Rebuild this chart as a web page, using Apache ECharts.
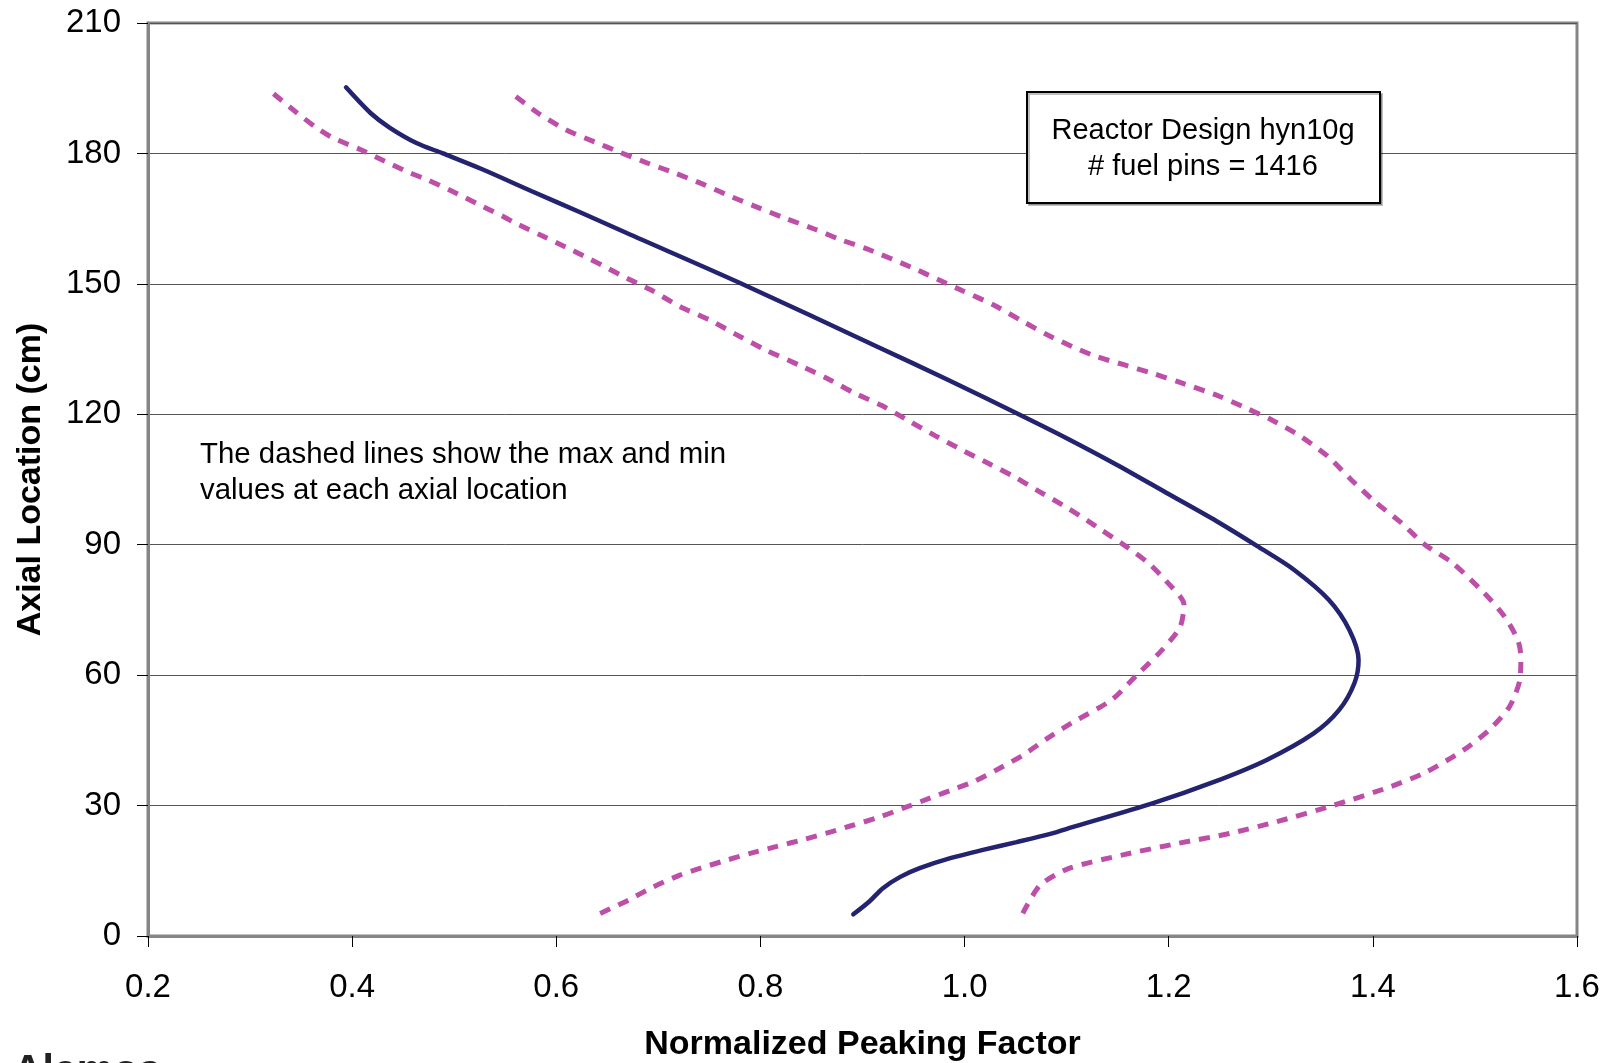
<!DOCTYPE html>
<html>
<head>
<meta charset="utf-8">
<script src="https://cdn.jsdelivr.net/npm/echarts@6/dist/echarts.min.js"></script>
<style>
  html, body { margin: 0; padding: 0; background: #fff; }
  #main { width: 1613px; height: 1063px; }
</style>
</head>
<body>
<div id="main"></div>
<script>
// average peaking factor (solid line), read bottom to top
const avgFactor = [0.891, 0.907, 0.920, 0.937, 0.956, 0.986, 1.018, 1.051, 1.084, 1.108, 1.184, 1.245, 1.296, 1.342, 1.367, 1.382, 1.386, 1.377, 1.357, 1.323, 1.288, 1.247, 1.198, 1.149, 1.100, 1.054, 0.983, 0.914, 0.780, 0.669, 0.625, 0.576, 0.528, 0.489, 0.463, 0.437, 0.418, 0.394];
const avgAxial  = [5.0, 8.0, 11.0, 13.6, 15.6, 17.9, 19.8, 21.6, 23.5, 25.2, 30.5, 35.5, 40.5, 46.6, 52.0, 58.2, 63.5, 70.4, 77.3, 84.2, 89.5, 95.4, 101.9, 108.4, 114.5, 119.9, 128.0, 135.6, 150.2, 161.7, 166.3, 171.3, 176.3, 180.0, 182.4, 185.9, 189.3, 195.2];

// max values (upper dashed line)
const maxFactor = [1.057, 1.074, 1.103, 1.154, 1.209, 1.260, 1.306, 1.362, 1.418, 1.453, 1.489, 1.514, 1.534, 1.544, 1.545, 1.542, 1.529, 1.509, 1.478, 1.451, 1.428, 1.402, 1.379, 1.356, 1.330, 1.301, 1.276, 1.250, 1.209, 1.183, 1.156, 1.129, 1.106, 1.081, 1.056, 1.028, 0.999, 0.974, 0.948, 0.906, 0.878, 0.854, 0.823, 0.793, 0.767, 0.743, 0.716, 0.689, 0.662, 0.638, 0.609, 0.582, 0.558];
const maxAxial  = [5.2, 11.7, 15.6, 18.6, 21.3, 23.6, 26.3, 30.1, 34.4, 37.8, 42.8, 47.4, 52.8, 58.9, 64.3, 68.1, 73.5, 78.9, 85.8, 90.0, 95.0, 99.9, 104.9, 110.3, 114.8, 118.7, 121.4, 124.1, 127.5, 129.5, 131.4, 133.3, 135.5, 138.3, 141.5, 145.2, 148.3, 151.0, 153.8, 157.9, 160.2, 162.5, 165.2, 168.0, 170.5, 173.0, 175.5, 177.8, 180.3, 182.6, 185.5, 189.3, 193.5];

// min values (lower dashed line)
const minFactor = [0.643, 0.671, 0.695, 0.721, 0.736, 0.762, 0.790, 0.816, 0.844, 0.870, 0.888, 0.916, 0.940, 0.966, 0.992, 1.009, 1.033, 1.058, 1.080, 1.105, 1.144, 1.169, 1.192, 1.211, 1.215, 1.198, 1.180, 1.157, 1.134, 1.120, 1.097, 1.072, 1.049, 1.025, 0.999, 0.971, 0.943, 0.919, 0.891, 0.865, 0.839, 0.806, 0.775, 0.751, 0.721, 0.692, 0.669, 0.644, 0.633, 0.609, 0.584, 0.558, 0.548, 0.522, 0.498, 0.473, 0.457, 0.432, 0.408, 0.381, 0.365, 0.344, 0.320];
const minAxial  = [5.2, 8.3, 11.3, 14.0, 15.2, 17.1, 19.0, 20.6, 22.3, 24.0, 25.3, 27.3, 29.4, 31.7, 34.0, 35.5, 38.4, 41.7, 45.3, 49.0, 54.3, 60.1, 65.4, 71.0, 76.2, 81.5, 85.8, 89.8, 93.4, 95.6, 99.0, 102.4, 105.6, 108.5, 111.6, 115.1, 118.8, 122.0, 125.0, 128.3, 131.2, 134.7, 138.5, 141.6, 144.8, 148.7, 151.3, 154.4, 155.7, 158.5, 161.3, 164.2, 165.5, 168.5, 171.3, 174.0, 175.5, 178.2, 180.9, 183.6, 185.9, 189.7, 194.3];

const xTicks = { min: 0.2, max: 1.6, step: 0.2 };
const yTicks = { min: 0, max: 210, step: 30 };

const font = '"Liberation Sans", Arial, sans-serif';
const navy = '#232370';
const pink = '#bd4fa8';

function zip(xs, ys) {
  return xs.map((x, i) => [x, ys[i]]);
}

const chart = echarts.init(document.getElementById('main'));
chart.setOption({
  animation: false,
  backgroundColor: '#fff',
  grid: {
    left: 148, right: 36, top: 23, bottom: 127,
    show: true,
    borderColor: '#858585',
    borderWidth: 3,
    containLabel: false,
    outerBoundsMode: 'none'
  },
  xAxis: {
    type: 'value',
    min: xTicks.min, max: xTicks.max, interval: xTicks.step,
    name: 'Normalized Peaking Factor',
    nameLocation: 'middle',
    nameGap: 92,
    nameTextStyle: { fontFamily: font, fontSize: 34, fontWeight: 'bold', color: '#000' },
    axisLine: { show: true, lineStyle: { color: '#858585', width: 3 } },
    axisTick: { show: true, length: 11, lineStyle: { color: '#000', width: 1 } },
    axisLabel: {
      margin: 35, fontFamily: font, fontSize: 33, color: '#000',
      formatter: v => v.toFixed(1)
    },
    splitLine: { show: false }
  },
  yAxis: {
    type: 'value',
    min: yTicks.min, max: yTicks.max, interval: yTicks.step,
    name: 'Axial Location (cm)',
    nameLocation: 'middle',
    nameGap: 100,
    nameTextStyle: { fontFamily: font, fontSize: 34, fontWeight: 'bold', color: '#000' },
    axisLine: { show: true, lineStyle: { color: '#858585', width: 3 } },
    axisTick: { show: true, length: 11, lineStyle: { color: '#000', width: 1 } },
    axisLabel: { margin: 27, fontFamily: font, fontSize: 33, color: '#000' },
    splitLine: { show: true, lineStyle: { color: '#555', width: 1 } }
  },
  series: [
    {
      name: 'max',
      type: 'line',
      data: zip(maxFactor, maxAxial),
      showSymbol: false,
      smooth: 0.25,
      lineStyle: { color: pink, width: 5, type: [11, 9], cap: 'butt' },
      z: 3
    },
    {
      name: 'min',
      type: 'line',
      data: zip(minFactor, minAxial),
      showSymbol: false,
      smooth: 0.25,
      lineStyle: { color: pink, width: 5, type: [11, 9], cap: 'butt' },
      z: 3
    },
    {
      name: 'average',
      type: 'line',
      data: zip(avgFactor, avgAxial),
      showSymbol: false,
      smooth: 0.3,
      lineStyle: { color: navy, width: 4.5, cap: 'round' },
      z: 4
    }
  ],
  graphic: [
    {
      type: 'rect',
      shape: { x: 1027, y: 92, width: 353, height: 111 },
      style: { fill: '#fff', stroke: '#000', lineWidth: 2, shadowColor: 'rgba(0,0,0,0.25)', shadowOffsetX: 2, shadowOffsetY: 2 },
      z: 10
    },
    {
      type: 'text',
      x: 1203, y: 149,
      style: {
        text: 'Reactor Design hyn10g\n# fuel pins = 1416',
        fontFamily: font, fontSize: 29, lineHeight: 36,
        fill: '#000', align: 'center', verticalAlign: 'middle'
      },
      z: 11
    },
    {
      type: 'text',
      x: 200, y: 473,
      style: {
        text: 'The dashed lines show the max and min\nvalues at each axial location',
        fontFamily: font, fontSize: 29.4, lineHeight: 36,
        fill: '#000', align: 'left', verticalAlign: 'middle'
      },
      z: 11
    },
    {
      type: 'text',
      x: 13, y: 1051,
      style: {
        text: 'Alamos',
        fontFamily: font, fontSize: 41, fontWeight: 'bold',
        fill: '#222', align: 'left', verticalAlign: 'top'
      },
      z: 11
    }
  ]
});
</script>
</body>
</html>
